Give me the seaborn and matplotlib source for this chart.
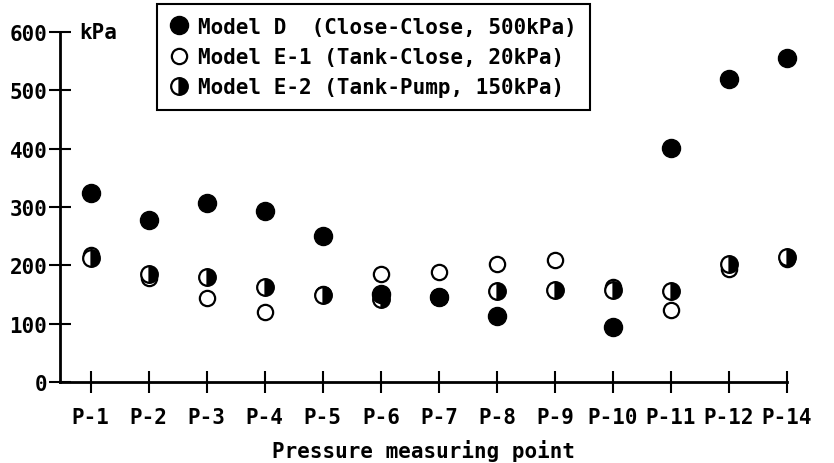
"""Pressure at each measuring point for Model D / E-1 / E-2 (scatter, categorical x)."""

import matplotlib.pyplot as plt
import numpy as np
import pandas as pd
import seaborn as sns

points = ["P-1", "P-2", "P-3", "P-4", "P-5", "P-6", "P-7",
          "P-8", "P-9", "P-10", "P-11", "P-12", "P-14"]
model_d = [324, 278, 307, 293, 250, 150, 146, 113, np.nan, 94, 401, 519, 556]
model_e1 = [218, 178, 144, 120, 151, 185, 188, 202, 209, 163, 124, 194, 211]
model_e2 = [212, 185, 180, 163, 149, 142, 146, 156, 158, 158, 156, 202, 214]
labels = ["Model D  (Close-Close, 500kPa)",
          "Model E-1 (Tank-Close, 20kPa)",
          "Model E-2 (Tank-Pump, 150kPa)"]
y_ticks = [0, 100, 200, 300, 400, 500, 600]

sns.set_style("white")
plt.rcParams["font.family"] = ["DejaVu Sans Mono"]
plt.rcParams["font.weight"] = "bold"
plt.rcParams["text.color"] = "black"

df = pd.DataFrame({"point": points, "D": model_d, "E1": model_e1, "E2": model_e2})

fig = plt.figure(figsize=(8.34, 4.64), dpi=100)
ax = fig.add_axes([0.0719, 0.1746, 0.8717, 0.7543])

# open circles first so the category order is fixed by a complete series
sns.lineplot(data=df, x="point", y="E1", ax=ax, linestyle="none", marker="o",
             markersize=11, markerfacecolor="white", markeredgecolor="black",
             markeredgewidth=1.6, color="black", label=labels[1], clip_on=False)
sns.lineplot(data=df, x="point", y="E2", ax=ax, linestyle="none", marker="o",
             markersize=12, fillstyle="right", markerfacecolor="black",
             markerfacecoloralt="white", markeredgecolor="black",
             markeredgewidth=1.6, color="black", label=labels[2], clip_on=False)
sns.lineplot(data=df.dropna(), x="point", y="D", ax=ax, linestyle="none",
             marker="o", markersize=13, markerfacecolor="black",
             markeredgecolor="black", markeredgewidth=1, color="black",
             label=labels[0], clip_on=False)

ax.set_xlim(-0.53, len(points) - 1)
ax.set_ylim(0, 600)
ax.set_yticks(y_ticks)
ax.set_xlabel("Pressure measuring point", fontsize=15, fontweight="bold",
              color="black", labelpad=9)
ax.set_ylabel("")
for side in ["top", "right"]:
    ax.spines[side].set_visible(False)
for side in ["left", "bottom"]:
    ax.spines[side].set_linewidth(2)
    ax.spines[side].set_color("black")
ax.tick_params(axis="both", direction="inout", length=16, width=1.5,
               colors="black", labelsize=15, bottom=True, left=True)
ax.tick_params(axis="x", pad=10)
ax.tick_params(axis="y", pad=1)
for t in ax.get_xticklabels() + ax.get_yticklabels():
    t.set_fontweight("bold")

ax.annotate("kPa", xy=(0, 1), xycoords="axes fraction", xytext=(14, 0),
            textcoords="offset points", va="center", ha="left",
            fontsize=15, fontweight="bold", color="black")

ax.get_legend().remove()
handles, labs = ax.get_legend_handles_labels()
order = [labs.index(l) for l in labels]
leg = fig.legend([handles[i] for i in order], labels, loc="upper left",
                 bbox_to_anchor=(0.188, 0.989), borderaxespad=0,
                 frameon=True, fancybox=False, framealpha=1,
                 edgecolor="black", fontsize=15, handlelength=0.9,
                 handletextpad=0.5, labelspacing=0.5, borderpad=0.6)
leg.get_frame().set_linewidth(1.5)
for t in leg.get_texts():
    t.set_fontweight("bold")
    t.set_color("black")

fig.savefig("out.png", dpi=100)
